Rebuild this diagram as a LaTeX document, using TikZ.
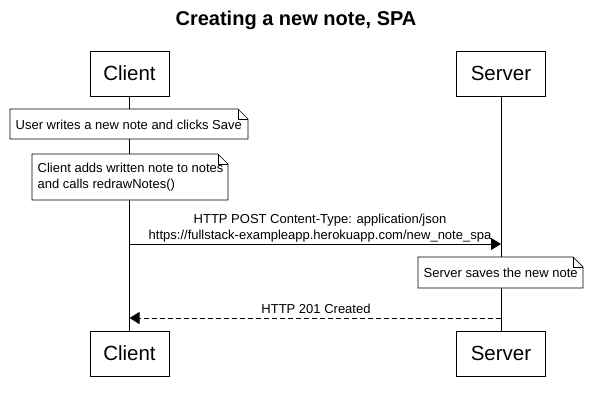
\documentclass[tikz,border=0pt]{standalone}
\usepackage{fontspec}
\setmainfont{Liberation Sans}
\usetikzlibrary{arrows.meta}
\begin{document}
\begin{tikzpicture}[x=1pt,y=-1pt,
  actor/.style={draw,line width=0.9pt,minimum width=79pt,minimum height=45pt,inner sep=0pt,font=\fontsize{20.5}{24}\selectfont},
  life/.style={line width=0.9pt},
  msg/.style={line width=0.9pt,-{Triangle[length=10pt,width=12pt]}},
  lbl/.style={font=\fontsize{13}{16}\selectfont,align=center,inner sep=0pt},
  notetxt/.style={font=\fontsize{13}{16}\selectfont,align=left,inner sep=0pt}]
\useasboundingbox (0,0) rectangle (593,401);
\node[font=\bfseries\fontsize{20}{24}\selectfont] (title) at (296,20) {Creating a new note, SPA};
\node[actor] (c1) at (129.5,73.5) {Client};
\node[actor,minimum width=89pt] (s1) at (501,73.5) {Server};
\node[actor] (c2) at (129.5,353.5) {Client};
\node[actor,minimum width=89pt] (s2) at (501,353.5) {Server};
\draw[life] (c1.south) -- (c2.north);
\draw[life] (s1.south) -- (s2.north);
% notes
\newcommand{\mynote}[5]{%
  \fill[white] (#1,#2) -- (#3-10,#2) -- (#3,#2+10) -- (#3,#4) -- (#1,#4) -- cycle;
  \draw[line width=0.7pt] (#1,#2) -- (#3-10,#2) -- (#3,#2+10) -- (#3,#4) -- (#1,#4) -- cycle;
  \draw[line width=0.7pt] (#3-10,#2) -- (#3-10,#2+10) -- (#3,#2+10);
  #5}
\mynote{10}{109}{248}{139}{\node[notetxt,anchor=west] (n1) at (15.5,125) {User writes a new note and clicks Save};}
\mynote{32}{154}{228}{200}{\node[notetxt,anchor=west] (n2) at (37.5,177) {Client adds written note to notes\\and calls redrawNotes()};}
\coordinate (a1s) at (129.5,244);
\coordinate (a1e) at (501,244);
\draw[msg] (a1s) -- (a1e);
\node[lbl] (l1) at (320,228) {HTTP POST Content-Type: application/json\\https://fullstack-exampleapp.herokuapp.com/new\_note\_spa};
\mynote{418}{257}{583}{288}{\node[notetxt,anchor=west] (n3) at (423.5,272.5) {Server saves the new note};}
\coordinate (a2s) at (501,318);
\coordinate (a2e) at (129.5,318);
\draw[msg,dashed,dash pattern=on 5pt off 3pt] (a2s) -- (a2e);
\node[lbl] (l2) at (316,309) {HTTP 201 Created};
\end{tikzpicture}
\end{document}
